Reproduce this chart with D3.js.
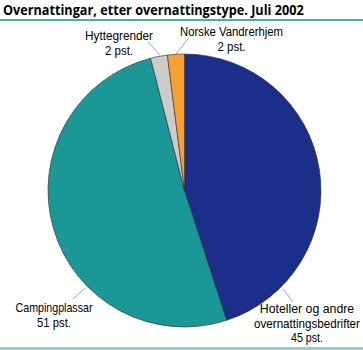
<!DOCTYPE html>
<html><head><meta charset="utf-8">
<script src="https://cdn.jsdelivr.net/npm/d3@7"></script>
<style>body{margin:0;background:#fff}svg{display:block}</style>
</head><body>
<svg id="chart" width="363" height="350"></svg>
<script>
const categories = ["Hoteller og andre overnattingsbedrifter", "Campingplassar", "Hyttegrender", "Norske Vandrerhjem"];
const values = [45, 51, 2, 2];
const colors = ["#1b2e8a", "#1a9797", "#cbcbcb", "#f7a030"];
const labelLines = [["Hoteller og andre", "overnattingsbedrifter", "45 pst."], ["Campingplassar", "51 pst."], ["Hyttegrender", "2 pst."], ["Norske Vandrerhjem", "2 pst."]];
const title = "Overnattingar, etter overnattingstype. Juli 2002";

const svg = d3.select("#chart");
const font = "'Liberation Sans', Arial, sans-serif";

// place a text at (x, y) and squeeze it horizontally so it spans at most w
function placeText(sel, x, y, w) {
  const natural = sel.node().getComputedTextLength();
  const sx = natural > w ? w / natural : 1;
  sel.attr("transform", `translate(${x},${y}) scale(${sx},1)`);
}

const titleText = svg.append("text").attr("font-family", "'Open Sans', sans-serif")
  .attr("font-weight", "bold").attr("font-size", 15).attr("fill", "#000").text(title);
placeText(titleText, 3, 15, 301);
svg.append("line").attr("x1", 0).attr("x2", 363).attr("y1", 20).attr("y2", 20)
  .attr("stroke", "#3fb1b4").attr("stroke-width", 2);
svg.append("line").attr("x1", 0).attr("x2", 363).attr("y1", 348.5).attr("y2", 348.5)
  .attr("stroke", "#8fd1ce").attr("stroke-width", 3);

const cx = 184.5, cy = 190.5, r = 136.5;
const pie = d3.pie().sort(null).value(d => d)(values);
const arc = d3.arc().innerRadius(0).outerRadius(r);
const g = svg.append("g").attr("transform", `translate(${cx},${cy})`);
g.selectAll("path").data(pie).join("path")
  .attr("d", arc).attr("fill", (d, i) => colors[i])
  .attr("stroke", "#2a2a2a").attr("stroke-width", 0.6);

// label placement: centre x, first baseline, width of each line
const labelPos = [
  {x: 307, y: 313, widths: [95, 106, 32]},
  {x: 54, y: 312, widths: [77, 34]},
  {x: 119, y: 40, widths: [68, 28]},
  {x: 231.5, y: 36, widths: [103, 28]}
];
const lineGap = 14.5;
const leaders = [
  [283, 289, 293, 302],
  [85, 288, 73, 299],
  [148, 42, 160, 55],
  [188, 39, 176, 54]
];
leaders.forEach(l => svg.append("line").attr("x1", l[0]).attr("y1", l[1]).attr("x2", l[2]).attr("y2", l[3])
  .attr("stroke", "#8a8a8a").attr("stroke-width", 0.8));

labelLines.forEach((lines, i) => {
  const p = labelPos[i];
  lines.forEach((s, j) => {
    const t = svg.append("text").attr("font-family", font).attr("font-size", 12.3)
      .attr("text-anchor", "middle").attr("fill", "#000").text(s);
    placeText(t, p.x, p.y + j * lineGap, p.widths[j]);
  });
});
</script>
</body></html>
